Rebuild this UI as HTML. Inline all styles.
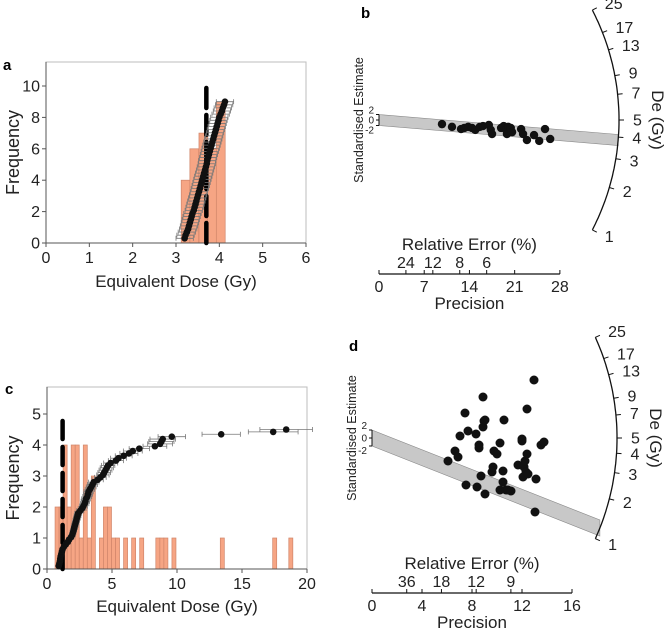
<!DOCTYPE html>
<html><head><meta charset="utf-8"><style>
body{margin:0;background:#fff}
svg{display:block;font-family:"Liberation Sans",sans-serif}
</style></head><body>
<svg id="fig" width="670" height="628" viewBox="0 0 670 628" xmlns="http://www.w3.org/2000/svg"></svg>
<script>
// ---------- data ----------
const aBins = [3.12, 3.32, 3.53, 3.73, 3.93];
const aBinW = 0.205;
const aCounts = [4, 6, 7, 6, 9];
const aDe = [3.20,3.22,3.25,3.28,3.30,3.32,3.34,3.36,3.38,3.41,3.43,3.45,3.47,3.49,3.51,3.53,3.55,3.57,3.59,3.61,3.63,3.65,3.67,3.69,3.71,3.72,3.74,3.76,3.78,3.80,3.82,3.84,3.86,3.88,3.90,3.92,3.94,3.96,3.98,4.00,4.03,4.06,4.08,4.11,4.13];
const aCentral = 3.7;
const aXTicks = [0,1,2,3,4,5,6];
const aYTicks = [0,2,4,6,8,10];

const cBins = [0.62,0.93,1.24,1.55,1.86,2.17,2.48,2.79,3.1,3.41,4.03,4.34,4.65,4.96,5.27,5.89,6.51,7.13,8.37,8.68,8.99,9.61,13.33,17.36,18.6];
const cBinW = 0.31;
const cCounts = [2,2,4,2,4,4,1,4,1,3,1,2,2,1,1,1,1,1,1,1,1,1,1,1,1];
const cDe = [0.9,0.95,1.0,1.02,1.05,1.1,1.15,1.2,1.3,1.45,1.6,1.7,1.85,1.95,2.0,2.05,2.1,2.15,2.2,2.25,2.3,2.35,2.4,2.55,2.7,2.8,2.9,2.95,3.0,3.1,3.15,3.2,3.3,3.4,3.5,3.6,3.9,4.1,4.3,4.4,4.5,4.6,4.7,4.9,5.3,5.5,5.9,6.3,6.6,7.1,8.3,8.7,8.8,8.9,9.6,13.4,17.4,18.4];
const cCentral = 1.2;
const cXTicks = [0,5,10,15,20];
const cYTicks = [0,1,2,3,4,5];

const bPrec = [9.75,11.3,12.7,13.2,13.8,14.4,14.9,15.6,16.1,17.0,17.3,17.5,18.9,19.3,19.7,19.8,20.0,20.4,20.6,22.0,22.3,22.9,24.0,24.8,25.7,26.5];
const bStd = [-1.5,-2.5,-3.3,-2.9,-2.5,-2.9,-3.6,-2.5,-2.2,-1.8,-3.6,-5.1,-2.9,-2.2,-3.6,-5.1,-2.5,-2.9,-4.4,-3.3,-5.1,-7.3,-5.5,-7.6,-3.3,-6.9];
const bPrecTicks = [0,7,14,21,28];
const bRelErr = [24,12,8,6];
const bArcTicks = [25,17,13,9,7,5,4,3,2,1];
const bCentral = 3.85;

const dPrec = [6.08,6.64,6.88,7.04,7.44,7.52,7.68,8.32,8.4,8.56,8.56,8.72,8.88,8.96,8.88,9.04,9.04,9.6,9.68,9.76,10.0,10.24,10.24,10.48,10.48,10.56,10.72,10.88,11.12,11.68,12.0,12.0,12.08,12.16,12.24,12.32,12.4,12.48,12.4,12.96,13.04,13.12,13.52,13.76];
const dStd = [-5.75,-3.25,-4.75,0.5,6.25,-11.75,1.75,1.0,-12.25,-1.75,-2.5,-9.5,2.75,4.25,10.25,4.5,-14,-8.5,-7.25,-3.25,-4,-1.25,-13,-8.25,-11,4.5,-13,-13,-13.25,-6.75,-0.25,-0.75,-9.75,-7.25,-5.75,-8.5,-4,-9,7.25,14.5,-18.5,-10.25,-1.75,-1];
const dPrecTicks = [0,4,8,12,16];
const dRelErr = [36,18,12,9];
const dArcTicks = [25,17,13,9,7,5,4,3,2,1];
const dCentral = 1.22;

// ---------- helpers ----------
const NS = "http://www.w3.org/2000/svg";
const svg = document.getElementById('fig');
function mk(tag, attrs, parent, text){
  const e = document.createElementNS(NS, tag);
  for (const k in attrs) e.setAttribute(k, attrs[k]);
  if (text !== undefined) e.textContent = text;
  (parent || svg).appendChild(e);
  return e;
}
function group(name){
  const g = mk('g', {});
  
  
  return g;
}
function label(parent, name, x, y, txt, size, anchor, extra){
  const t = mk('text', Object.assign({x:x, y:y, 'font-size':size, 'text-anchor':anchor||'middle', fill:'#222'}, extra||{}), parent, txt);
  
  
  return t;
}

// ---------- histogram panels ----------
function histPanel(o){
  const g = group(o.name);
  const X = v => o.x0 + (v - o.xmin) / (o.xmax - o.xmin) * (o.x1 - o.x0);
  const Y = v => o.yBase - v * o.yPer;
  const frame = mk('rect', {x:o.x0, y:o.yTop, width:o.x1-o.x0, height:o.yBase-o.yTop, fill:'none', stroke:'#bdbdbd', 'stroke-width':1}, g);
  
  
  for (let i = 0; i < o.bins.length; i++){
    const r = mk('rect', {x:X(o.bins[i]), y:Y(o.counts[i]), width:X(o.bins[i]+o.binW)-X(o.bins[i]), height:Y(0)-Y(o.counts[i]), fill:'#f6a584', stroke:'#d0856a', 'stroke-width':0.7}, g);
    
    
  }
  mk('line', {x1:o.x0, y1:o.yBase, x2:o.x1, y2:o.yBase, stroke:'#555', 'stroke-width':1}, g);
  mk('line', {x1:o.x0, y1:o.yTop, x2:o.x0, y2:o.yBase, stroke:'#555', 'stroke-width':1}, g);
  o.xTicks.forEach(t => {
    mk('line', {x1:X(t), y1:o.yBase, x2:X(t), y2:o.yBase+4, stroke:'#555'}, g);
    label(g, 'x-tick-label', X(t), o.xLabY, String(t), 16);
  });
  o.yTicks.forEach(t => {
    mk('line', {x1:o.x0-4, y1:Y(t), x2:o.x0, y2:Y(t), stroke:'#555'}, g);
    label(g, 'y-tick-label', o.x0-6, Y(t)+5.5, String(t), 16, 'end');
  });
  const dl = mk('line', {x1:X(o.central), y1:Y(0), x2:X(o.central), y2:Y(o.dashTop), stroke:'#000', 'stroke-width':4.5, 'stroke-dasharray':o.dash, 'stroke-linecap':'round'}, g);
  
  
  const n = o.de.length;
  for (let i = 0; i < n; i++){
    const yv = o.yStart + i * (o.yEnd - o.yStart) / (n - 1);
    const e = o.errFn(o.de[i]);
    const py = Y(yv);
    mk('line', {x1:X(o.de[i]-e), y1:py, x2:X(o.de[i]+e), y2:py, stroke:'#777', 'stroke-width':0.8}, g);
    mk('line', {x1:X(o.de[i]-e), y1:py-2.5, x2:X(o.de[i]-e), y2:py+2.5, stroke:'#777', 'stroke-width':0.8}, g);
    mk('line', {x1:X(o.de[i]+e), y1:py-2.5, x2:X(o.de[i]+e), y2:py+2.5, stroke:'#777', 'stroke-width':0.8}, g);
  }
  for (let i = 0; i < n; i++){
    const yv = o.yStart + i * (o.yEnd - o.yStart) / (n - 1);
    const c = mk('circle', {cx:X(o.de[i]), cy:Y(yv), r:3.3, fill:'#111'}, g);
    
    
  }
  label(g, 'x-axis-title', (o.x0+o.x1)/2, o.xTitleY, 'Equivalent Dose (Gy)', 17);
  label(g, 'y-axis-title', 0, 0, 'Frequency', 18, 'middle', {transform:'translate(19,'+((o.yTop+o.yBase)/2)+') rotate(-90)'});
  label(g, 'panel-letter', o.letterX, o.letterY, o.letter, 15, 'start', {'font-weight':'bold', fill:'#000'});
}

histPanel({name:'panel-a', letter:'a', letterX:3, letterY:70, x0:46, x1:306, xmin:0, xmax:6, yBase:243, yTop:62, yPer:15.7,
  bins:aBins, binW:aBinW, counts:aCounts, de:aDe, yStart:0.3, yEnd:9, errFn:d=>0.2, central:aCentral, dashTop:10, dash:'20 7',
  xTicks:aXTicks, yTicks:aYTicks, xLabY:263, xTitleY:287});
histPanel({name:'panel-c', letter:'c', letterX:5, letterY:394, x0:47, x1:307, xmin:0, xmax:20, yBase:569, yTop:387, yPer:31,
  bins:cBins, binW:cBinW, counts:cCounts, de:cDe, yStart:0.1, yEnd:4.5, errFn:d=>0.11*d, central:cCentral, dashTop:5, dash:'18 8',
  xTicks:cXTicks, yTicks:cYTicks, xLabY:589, xTitleY:612});

// ---------- radial panels ----------
function radialPanel(o){
  const g = group(o.name);
  const XP = p => o.cx + p * o.u;
  const YS = s => o.cy - s * o.s;
  const ang = D => Math.atan(o.k * Math.log(D / 5));
  const arcPt = (D, r) => [o.cx + r * Math.cos(ang(D)), o.cy - r * Math.sin(ang(D))];
  const e = arcPt(o.central, o.R);
  const band = mk('polygon', {points:[[o.cx, YS(2)],[e[0], e[1]-2*o.s],[e[0], e[1]+2*o.s],[o.cx, YS(-2)]].map(p=>p.join(',')).join(' '), fill:'#c8c8c8', stroke:'#888', 'stroke-width':0.6}, g);
  
  
  let d = '';
  for (let i = 0; i <= 60; i++){
    const D = Math.exp(i/60 * Math.log(25));
    const p = arcPt(D, o.R);
    d += (i ? 'L' : 'M') + p[0].toFixed(1) + ',' + p[1].toFixed(1);
  }
  const arc = mk('path', {d:d, fill:'none', stroke:'#111', 'stroke-width':1.3}, g);
  
  
  o.arcTicks.forEach(t => {
    const a = arcPt(t, o.R), b = arcPt(t, o.R + 5), l = arcPt(t, o.R + 14);
    mk('line', {x1:a[0], y1:a[1], x2:b[0], y2:b[1], stroke:'#111'}, g);
    label(g, 'arc-tick-label', l[0], l[1]+5.5, String(t), 16, 'start');
  });
  label(g, 'arc-axis-title', 0, 0, 'De (Gy)', 17, 'middle', {transform:'translate('+o.deTitleX+','+o.cy+') rotate(90)'});
  for (let i = 0; i < o.prec.length; i++){
    const c = mk('circle', {cx:XP(o.prec[i]), cy:YS(o.std[i]), r:o.r, fill:'#111'}, g);
    
    
  }
  mk('line', {x1:o.cx, y1:YS(2), x2:o.cx, y2:YS(-2), stroke:'#111'}, g);
  [2,0,-2].forEach(t => {
    mk('line', {x1:o.cx-3, y1:YS(t), x2:o.cx, y2:YS(t), stroke:'#111'}, g);
  });
  label(g, 'std-tick-label', o.cx-5, YS(2)-1, '2', 10, 'end');
  label(g, 'std-tick-label', o.cx-5, YS(0)+3.5, '0', 10, 'end');
  label(g, 'std-tick-label', o.cx-5, YS(-2)+8, '-2', 10, 'end');
  label(g, 'std-axis-title', 0, 0, 'Standardised Estimate', 12.5, 'middle', {transform:'translate('+(o.cx-16)+','+o.cy+') rotate(-90)'});
  const pmax = o.precTicks[o.precTicks.length-1];
  mk('line', {x1:XP(0), y1:o.axisY, x2:XP(pmax), y2:o.axisY, stroke:'#111', 'stroke-width':1.2}, g);
  o.precTicks.forEach(t => {
    mk('line', {x1:XP(t), y1:o.axisY-4, x2:XP(t), y2:o.axisY, stroke:'#111'}, g);
    label(g, 'precision-tick-label', XP(t), o.axisY+18, String(t), 16);
  });
  o.relErr.forEach(t => {
    mk('line', {x1:XP(100/t), y1:o.axisY-4, x2:XP(100/t), y2:o.axisY, stroke:'#111'}, g);
    label(g, 'rel-error-tick-label', XP(100/t), o.axisY-6, String(t), 16);
  });
  label(g, 'precision-axis-title', XP(pmax/2), o.axisY+35, 'Precision', 17);
  label(g, 'rel-error-axis-title', XP(pmax/2), o.axisY-24, 'Relative Error (%)', 17);
  label(g, 'panel-letter', o.letterX, o.letterY, o.letter, 15, 'start', {'font-weight':'bold', fill:'#000'});
}

radialPanel({name:'panel-b', letter:'b', letterX:361, letterY:18, cx:379, cy:120, R:240, k:0.32, s:2.75, u:6.46, r:4.2,
  prec:bPrec, std:bStd, central:bCentral, arcTicks:bArcTicks, precTicks:bPrecTicks, relErr:bRelErr, axisY:274, deTitleX:652});
radialPanel({name:'panel-d', letter:'d', letterX:349, letterY:351, cx:372, cy:438, R:245, k:0.28, s:4, u:12.5, r:4.5,
  prec:dPrec, std:dStd, central:dCentral, arcTicks:dArcTicks, precTicks:dPrecTicks, relErr:dRelErr, axisY:593, deTitleX:650});
</script>
</body></html>
